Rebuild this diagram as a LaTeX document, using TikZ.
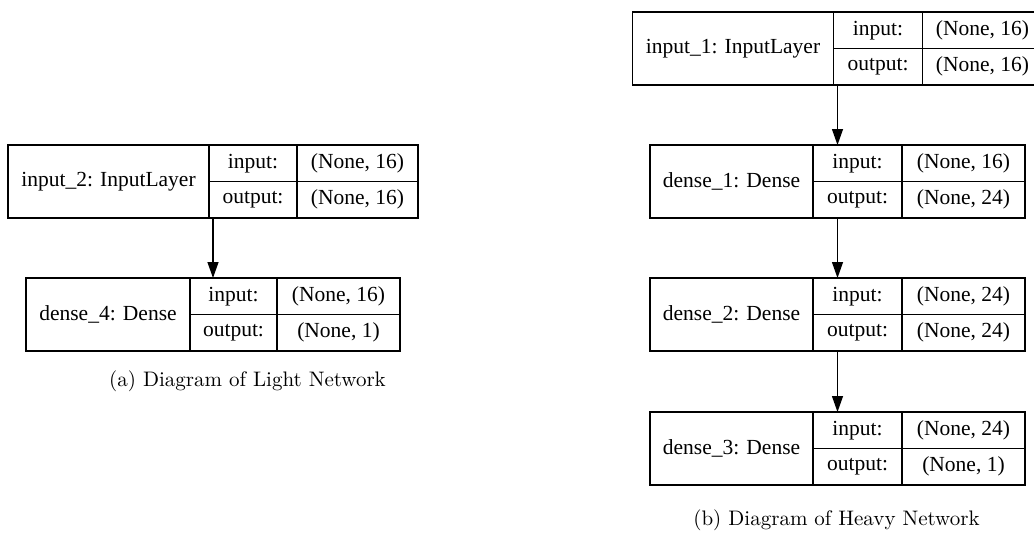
\documentclass[tikz,border=0pt]{standalone}
\usepackage{fontspec}
\newfontfamily\boxfont{Liberation Serif}
\newfontfamily\capfont{lmroman10-regular.otf}
\usetikzlibrary{arrows.meta,fit}
\tikzset{
  cellbox/.style={draw=black, line width=1.3pt, rectangle, inner sep=0pt, outer sep=0pt, anchor=north west,
    font=\boxfont\fontsize{21.5}{24}\selectfont},
  fitbox/.style={inner sep=0pt, outer sep=0pt},
  flowarrow/.style={draw=black, line width=1.3pt, -{Triangle[length=16pt,width=11pt]}},
  captiontext/.style={font=\capfont\fontsize{21}{25}\selectfont, inner sep=0pt}
}
\newcommand\layerbox[9]{%
  \node[cellbox, minimum width=#4pt, minimum height=73pt] (#1n) at (#2,#3) {#7};
  \node[cellbox, minimum width=#5pt, minimum height=36.5pt] (#1il) at (#1n.north east) {input:};
  \node[cellbox, minimum width=#6pt, minimum height=36.5pt] (#1iv) at (#1il.north east) {#8};
  \node[cellbox, minimum width=#5pt, minimum height=36.5pt] (#1ol) at (#1il.south west) {output:};
  \node[cellbox, minimum width=#6pt, minimum height=36.5pt] (#1ov) at (#1ol.north east) {#9};
  \node[fitbox, fit=(#1n)(#1ov)] (#1) {};
}
\begin{document}
\begin{tikzpicture}[x=1pt,y=-1pt]
\useasboundingbox (0,0) rectangle (1034,535);
% Light network
\layerbox{inA}{8}{145}{201}{88}{121}{input\_2: InputLayer}{(None, 16)}{(None, 16)}
\layerbox{dFour}{26}{278}{164}{87}{123}{dense\_4: Dense}{(None, 16)}{(None, 1)}
\draw[flowarrow] (inA.south) -- (dFour.north);
\node[captiontext] (capA) at (247.5,381) {(a) Diagram of Light Network};
% Heavy network
\layerbox{inB}{632.5}{12}{201}{89}{120}{input\_1: InputLayer}{(None, 16)}{(None, 16)}
\layerbox{dOne}{650}{145}{163}{89}{123}{dense\_1: Dense}{(None, 16)}{(None, 24)}
\layerbox{dTwo}{650}{278}{163}{89}{123}{dense\_2: Dense}{(None, 24)}{(None, 24)}
\layerbox{dThree}{650}{412}{163}{89}{123}{dense\_3: Dense}{(None, 24)}{(None, 1)}
\draw[flowarrow] (inB.south) -- (dOne.north);
\draw[flowarrow] (dOne.south) -- (dTwo.north);
\draw[flowarrow] (dTwo.south) -- (dThree.north);
\node[captiontext] (capB) at (836.5,520) {(b) Diagram of Heavy Network};
\end{tikzpicture}
\end{document}
